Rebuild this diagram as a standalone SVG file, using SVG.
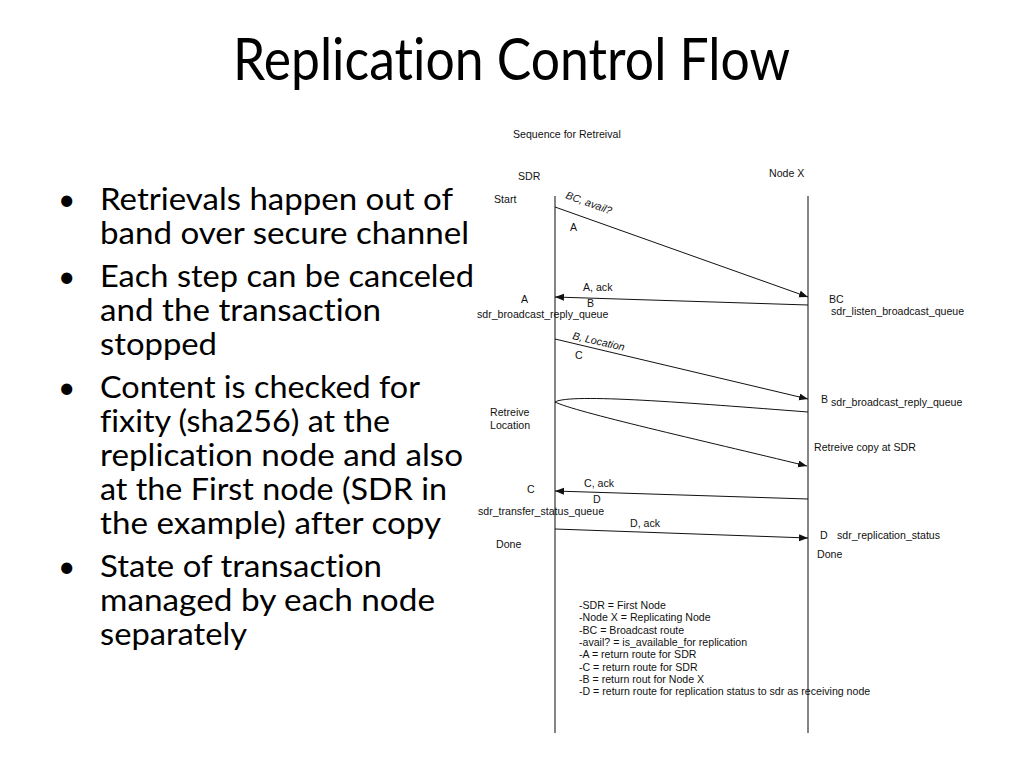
<svg xmlns="http://www.w3.org/2000/svg" width="1024" height="768" viewBox="0 0 1024 768">
<defs>
<marker id="ah" markerUnits="userSpaceOnUse" markerWidth="10" markerHeight="8" refX="9" refY="3.5" orient="auto">
<path d="M0,0 L9,3.5 L0,7 z" fill="#111"/>
</marker>
<style>
.t{font-family:"Lato","Open Sans","Liberation Sans",sans-serif;fill:#000;font-variant-ligatures:none;font-feature-settings:"liga" 0}
.b{font-size:30px}
.d{font-family:"Liberation Sans",Arial,sans-serif;font-size:10.6px;fill:#111}
.i{font-style:italic}
.ll{stroke:#333;stroke-width:1.2;fill:none}
.m{stroke:#111;stroke-width:1;fill:none;marker-end:url(#ah)}
</style>
</defs>
<rect width="1024" height="768" fill="#fff"/>
<g id="title">
<text class="t" x="233" y="80" font-size="58" textLength="557" lengthAdjust="spacingAndGlyphs">Replication Control Flow</text>
</g>
<g id="bullets" class="t b">
<text x="58" y="210">•</text>
<text x="100" y="210" textLength="353" lengthAdjust="spacingAndGlyphs">Retrievals happen out of</text>
<text x="100" y="244" textLength="369" lengthAdjust="spacingAndGlyphs">band over secure channel</text>
<text x="58" y="287">•</text>
<text x="100" y="287" textLength="374" lengthAdjust="spacingAndGlyphs">Each step can be canceled</text>
<text x="100" y="321" textLength="281" lengthAdjust="spacingAndGlyphs">and the transaction</text>
<text x="100" y="355" textLength="117" lengthAdjust="spacingAndGlyphs">stopped</text>
<text x="58" y="398">•</text>
<text x="100" y="398" textLength="320" lengthAdjust="spacingAndGlyphs">Content is checked for</text>
<text x="100" y="432" textLength="290" lengthAdjust="spacingAndGlyphs">fixity (sha256) at the</text>
<text x="100" y="466" textLength="363" lengthAdjust="spacingAndGlyphs">replication node and also</text>
<text x="100" y="500" textLength="347" lengthAdjust="spacingAndGlyphs">at the First node (SDR in</text>
<text x="100" y="534" textLength="341" lengthAdjust="spacingAndGlyphs">the example) after copy</text>
<text x="58" y="577">•</text>
<text x="100" y="577" textLength="282" lengthAdjust="spacingAndGlyphs">State of transaction</text>
<text x="100" y="611" textLength="335" lengthAdjust="spacingAndGlyphs">managed by each node</text>
<text x="100" y="645" textLength="147" lengthAdjust="spacingAndGlyphs">separately</text>
</g>
<g id="caption"><text class="d" x="513" y="138">Sequence for Retreival</text></g>
<g id="node-sdr">
<line class="ll" x1="555" y1="196" x2="555" y2="733"/>
<text class="d" x="518" y="180">SDR</text>
</g>
<g id="node-x">
<line class="ll" x1="808" y1="196" x2="808" y2="733"/>
<text class="d" x="769" y="177">Node X</text>
</g>
<g id="connectors">
<path class="m" d="M555,207 L808,297"/>
<path class="m" d="M808,305 L555,297"/>
<path class="m" d="M555,339 L808,399"/>
<path class="m" d="M808,412 C690,403 570,393 555,402 C575,412 700,440 807,466"/>
<path class="m" d="M808,499 L555,491"/>
<path class="m" d="M555,529 L808,538"/>
</g>
<g id="labels">
<text class="d" x="494" y="203">Start</text>
<text class="d i" transform="translate(565,198) rotate(20)">BC, avail?</text>
<text class="d" x="570" y="231">A</text>
<text class="d" x="583" y="291">A, ack</text>
<text class="d" x="521" y="303">A</text>
<text class="d" x="587" y="307">B</text>
<text class="d" x="477" y="318">sdr_broadcast_reply_queue</text>
<text class="d" x="829" y="303">BC</text>
<text class="d" x="831" y="315">sdr_listen_broadcast_queue</text>
<text class="d i" transform="translate(572,339) rotate(13)">B, Location</text>
<text class="d" x="575" y="359">C</text>
<text class="d" x="821" y="403">B</text>
<text class="d" x="831" y="406">sdr_broadcast_reply_queue</text>
<text class="d" x="490" y="416">Retreive</text>
<text class="d" x="490" y="429">Location</text>
<text class="d" x="814" y="451">Retreive copy at SDR</text>
<text class="d" x="584" y="487">C, ack</text>
<text class="d" x="527" y="493">C</text>
<text class="d" x="593" y="503">D</text>
<text class="d" x="478" y="515">sdr_transfer_status_queue</text>
<text class="d" x="630" y="527">D, ack</text>
<text class="d" x="496" y="548">Done</text>
<text class="d" x="820" y="539">D</text>
<text class="d" x="837" y="539">sdr_replication_status</text>
<text class="d" x="817" y="558">Done</text>
</g>
<g id="legend">
<text class="d" x="579" y="609">-SDR = First Node</text>
<text class="d" x="579" y="621.3">-Node X = Replicating Node</text>
<text class="d" x="579" y="633.7">-BC = Broadcast route</text>
<text class="d" x="579" y="646">-avail? = is_available_for replication</text>
<text class="d" x="579" y="658.3">-A = return route for SDR</text>
<text class="d" x="579" y="670.7">-C = return route for SDR</text>
<text class="d" x="579" y="683">-B = return rout for Node X</text>
<text class="d" x="579" y="695.3">-D = return route for replication status to sdr as receiving node</text>
</g>
</svg>
